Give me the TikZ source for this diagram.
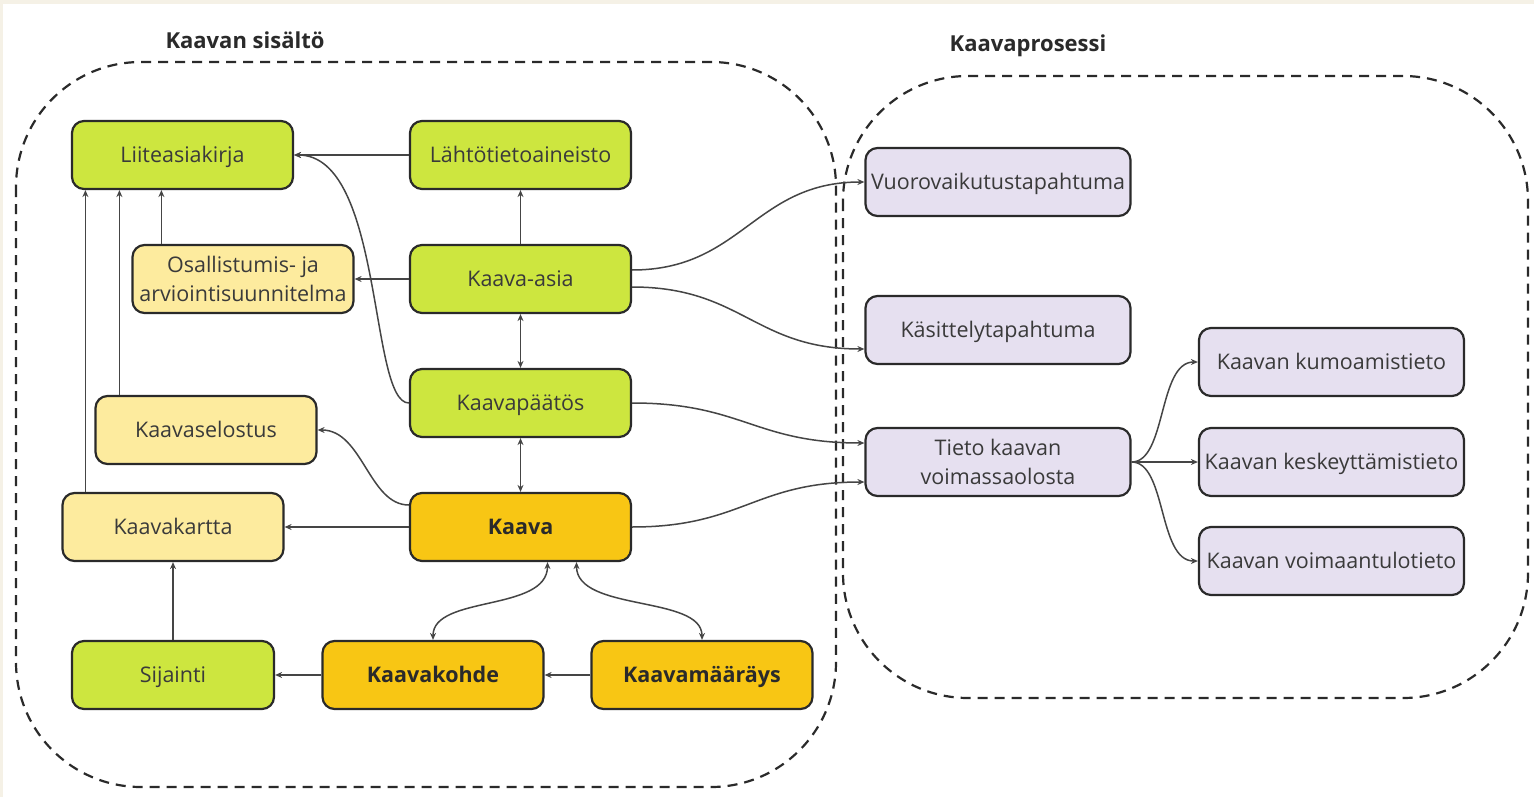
\documentclass[tikz,border=0pt]{standalone}
\usepackage{fontspec}
\setmainfont{Open Sans}
\usetikzlibrary{arrows.meta,calc}
\definecolor{cgreen}{HTML}{CDE63F}
\definecolor{cpale}{HTML}{FDEB9E}
\definecolor{corange}{HTML}{F8C614}
\definecolor{clav}{HTML}{E6E0F0}
\definecolor{cedge}{HTML}{2A2A2A}
\definecolor{cline}{HTML}{454545}
\definecolor{ctext}{HTML}{3A3A3A}
\definecolor{cbg}{HTML}{F5F1E6}
\begin{document}
\begin{tikzpicture}[x=1pt,y=-1pt,
  box/.style={draw=cedge,line width=2.2pt,rounded corners=12pt,minimum width=221pt,
    minimum height=68pt,align=center,text=ctext,font=\fontsize{21.5}{28.5}\selectfont,
    inner sep=1pt,text height=15.5pt,text depth=0pt},
  twoline/.style={text height=,text depth=},
  gbox/.style={box,fill=cgreen},
  ybox/.style={box,fill=cpale},
  obox/.style={box,fill=corange,font=\bfseries\fontsize{21.5}{28.5}\selectfont,text=cedge},
  pbox/.style={box,fill=clav,minimum width=265pt},
  conn/.style={draw=cline,line width=1.5pt,-{Stealth[length=7pt,width=6pt]}},
  conn2/.style={draw=cline,line width=1.5pt,{Stealth[length=7pt,width=6pt]}-{Stealth[length=7pt,width=6pt]}},
  region/.style={draw=cedge,line width=2.2pt,dash pattern=on 10pt off 7pt,rounded corners=125pt},
  title/.style={font=\bfseries\fontsize{22}{26}\selectfont,text=cedge}
]
\fill[cbg] (0,0) rectangle (1534,797);
\fill[white] (3,4) rectangle (1534,797);
\useasboundingbox (0,0) rectangle (1534,797);

% regions
\draw[region] (16,62) rectangle (836,787);
\draw[region] (843,76) rectangle (1528,698);
\node[title] (t1) at (245,40) {Kaavan sisältö};
\node[title] (t2) at (1028,46) {Kaavaprosessi};

% left nodes
\node[gbox] (liite) at (182.5,155) {Liiteasiakirja};
\node[gbox] (lahto) at (520.5,155) {Lähtötietoaineisto};
\node[gbox] (asia) at (520.5,279) {Kaava-asia};
\node[ybox,twoline] (osal) at (243,279) {Osallistumis- ja\\arviointisuunnitelma};
\node[gbox] (paatos) at (520.5,403) {Kaavapäätös};
\node[ybox] (selostus) at (206,430) {Kaavaselostus};
\node[obox] (kaava) at (520.5,527) {Kaava};
\node[ybox] (kartta) at (173,527) {Kaavakartta};
\node[gbox,minimum width=202pt] (sijainti) at (173,675) {Sijainti};
\node[obox] (kohde) at (433,675) {Kaavakohde};
\node[obox] (maarays) at (702,675) {Kaavamääräys};

% right nodes
\node[pbox] (vuoro) at (998,182) {Vuorovaikutustapahtuma};
\node[pbox] (kasittely) at (998,330) {Käsittelytapahtuma};
\node[pbox,twoline] (tieto) at (998,462) {Tieto kaavan\\voimassaolosta};
\node[pbox] (kumo) at (1331.5,362) {Kaavan kumoamistieto};
\node[pbox] (keskey) at (1331.5,462) {Kaavan keskeyttämistieto};
\node[pbox] (voima) at (1331.5,561) {Kaavan voimaantulotieto};

% helper coordinates
\coordinate (o1) at ($(osal.north west)+(30,0)$);
\coordinate (s1) at ($(selostus.north west)+(25,0)$);
\coordinate (k1) at ($(kartta.north west)+(24,0)$);
\coordinate (kb1) at ($(kaava.south)+(27,0)$);
\coordinate (kb2) at ($(kaava.south)+(56,0)$);

% left connectors
\draw[conn] (lahto.west) -- (liite.east);
\draw[conn] (asia.north) -- (lahto.south);
\draw[conn] (asia.west) -- (osal.east);
\draw[conn2] (asia.south) -- (paatos.north);
\draw[conn2] (paatos.south) -- (kaava.north);
\draw[conn] (o1) -- (o1 |- liite.south);
\draw[conn] (s1) -- (s1 |- liite.south);
\draw[conn] (k1) -- (k1 |- liite.south);
\draw[conn] (paatos.west) .. controls +(-40,0) and +(90,0) .. (liite.east);
\draw[conn] ($(kaava.west)+(0,-22)$) .. controls +(-40,0) and +(45,0) .. (selostus.east);
\draw[conn] (kaava.west) -- (kartta.east);
\draw[conn] (sijainti.north) -- (kartta.south);
\draw[conn] (kohde.west) -- (sijainti.east);
\draw[conn] (maarays.west) -- (kohde.east);
\draw[conn2] (kb1) .. controls +(0,50) and +(0,-45) .. (kohde.north);
\draw[conn2] (kb2) .. controls +(0,50) and +(0,-45) .. (maarays.north);

% cross connectors
\draw[conn] ($(asia.east)+(0,-9)$) .. controls +(110,0) and +(-110,0) .. (vuoro.west);
\draw[conn] ($(asia.east)+(0,8)$) .. controls +(110,0) and +(-110,0) .. ($(kasittely.west)+(0,19)$);
\draw[conn] (paatos.east) .. controls +(110,0) and +(-110,0) .. ($(tieto.west)+(0,-19)$);
\draw[conn] (kaava.east) .. controls +(110,0) and +(-110,0) .. ($(tieto.west)+(0,20)$);

% right connectors
\draw[conn] (tieto.east) .. controls +(35,0) and +(-40,0) .. (kumo.west);
\draw[conn] (tieto.east) -- (keskey.west);
\draw[conn] (tieto.east) .. controls +(35,0) and +(-40,0) .. (voima.west);
\end{tikzpicture}
\end{document}
